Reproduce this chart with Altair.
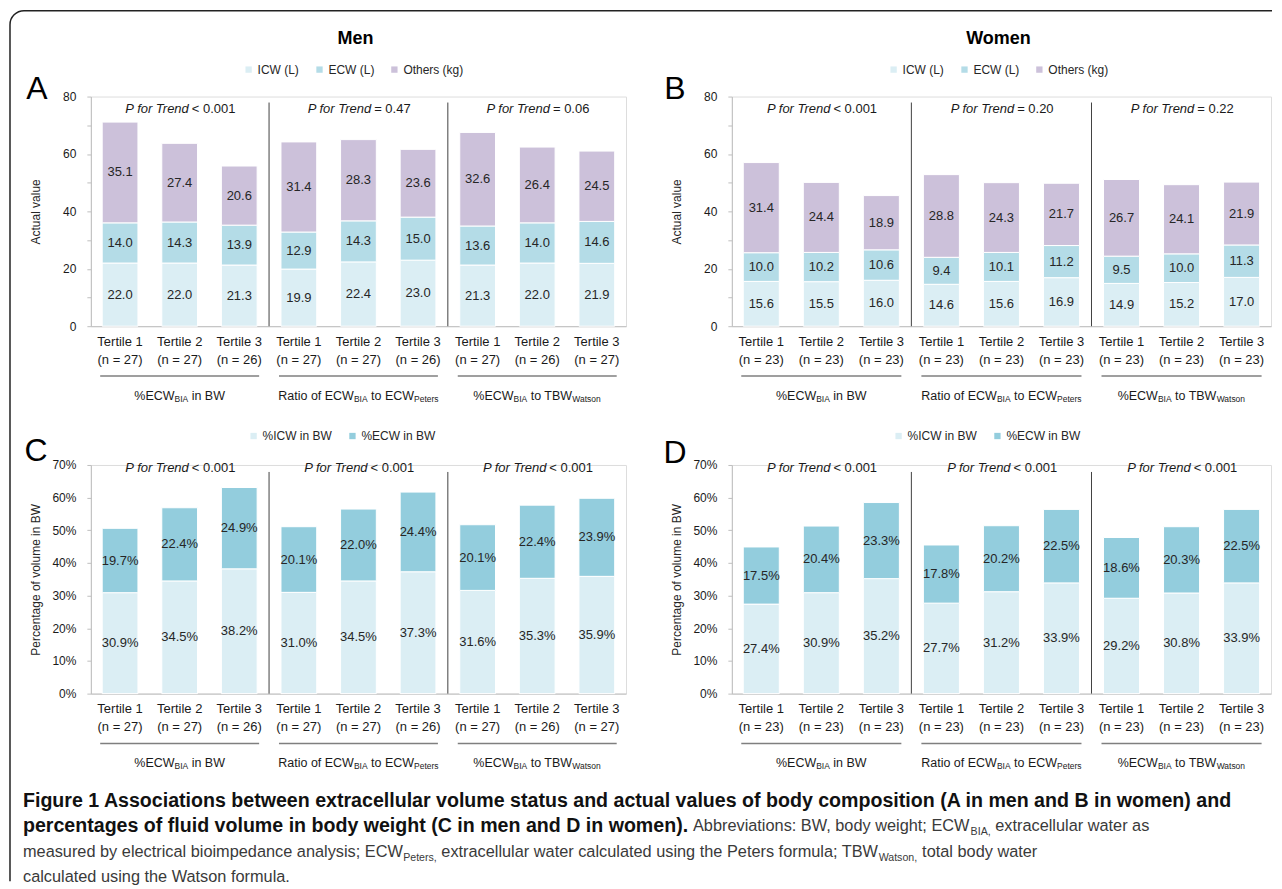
import altair as alt
import pandas as pd

FONT = "Liberation Sans"
INK = "#1a1a1a"

# ---------------- data ----------------
cats = ["c0", "c1", "c2", "c3", "c4", "c5", "c6", "c7", "c8"]
tertile_names = ["Tertile 1", "Tertile 2", "Tertile 3"] * 3
men_n = [27, 27, 26, 27, 27, 26, 27, 26, 27]
women_n = [23, 23, 23, 23, 23, 23, 23, 23, 23]

A_icw = [22.0, 22.0, 21.3, 19.9, 22.4, 23.0, 21.3, 22.0, 21.9]
A_ecw = [14.0, 14.3, 13.9, 12.9, 14.3, 15.0, 13.6, 14.0, 14.6]
A_oth = [35.1, 27.4, 20.6, 31.4, 28.3, 23.6, 32.6, 26.4, 24.5]

B_icw = [15.6, 15.5, 16.0, 14.6, 15.6, 16.9, 14.9, 15.2, 17.0]
B_ecw = [10.0, 10.2, 10.6, 9.4, 10.1, 11.2, 9.5, 10.0, 11.3]
B_oth = [31.4, 24.4, 18.9, 28.8, 24.3, 21.7, 26.7, 24.1, 21.9]

C_icw = [30.9, 34.5, 38.2, 31.0, 34.5, 37.3, 31.6, 35.3, 35.9]
C_ecw = [19.7, 22.4, 24.9, 20.1, 22.0, 24.4, 20.1, 22.4, 23.9]

D_icw = [27.4, 30.9, 35.2, 27.7, 31.2, 33.9, 29.2, 30.8, 33.9]
D_ecw = [17.5, 20.4, 23.3, 17.8, 20.2, 22.5, 18.6, 20.3, 22.5]

A_p = ["< 0.001", "= 0.47", "= 0.06"]
B_p = ["< 0.001", "= 0.20", "= 0.22"]
C_p = ["< 0.001", "< 0.001", "< 0.001"]
D_p = ["< 0.001", "< 0.001", "< 0.001"]

comp_actual = ["ICW (L)", "ECW (L)", "Others (kg)"]
comp_pct = ["%ICW in BW", "%ECW in BW"]
col_actual = ["#dbeef4", "#b4dce7", "#ccc1da"]
col_pct = ["#dbeef4", "#93cddd"]

group_label_pieces = [
    [("%ECW", "n"), ("BIA", "s"), (" in BW", "n")],
    [("Ratio of ECW", "n"), ("BIA", "s"), (" to ECW", "n"), ("Peters", "s")],
    [("%ECW", "n"), ("BIA", "s"), (" to TBW", "n"), ("Watson", "s")],
]

caption_lines = [
    [("Figure 1 Associations between extracellular volume status and actual values of body composition (A in men and B in women) and", "b")],
    [("percentages of fluid volume in body weight (C in men and D in women).", "b"),
     (" Abbreviations: BW, body weight; ECW", "r"), ("BIA,", "s"), (" extracellular water as", "r")],
    [("measured by electrical bioimpedance analysis; ECW", "r"), ("Peters,", "s"),
     (" extracellular water calculated using the Peters formula; TBW", "r"), ("Watson,", "s"),
     (" total body water", "r")],
    [("calculated using the Watson formula.", "r")],
]

# ---------------- text metrics (Arial-compatible widths) ----------------
_REG = {" ": 278, "!": 278, "%": 889, "(": 333, ")": 333, ",": 278, "-": 333, ".": 278,
        ":": 278, ";": 278, "<": 584, "=": 584,
        "A": 667, "B": 667, "C": 722, "D": 722, "E": 667, "F": 611, "G": 778, "H": 722,
        "I": 278, "J": 500, "K": 667, "L": 556, "M": 833, "N": 722, "O": 778, "P": 667,
        "Q": 778, "R": 722, "S": 667, "T": 611, "U": 722, "V": 667, "W": 944, "X": 667,
        "Y": 667, "Z": 611,
        "a": 556, "b": 556, "c": 500, "d": 556, "e": 556, "f": 278, "g": 556, "h": 556,
        "i": 222, "j": 222, "k": 500, "l": 222, "m": 833, "n": 556, "o": 556, "p": 556,
        "q": 556, "r": 333, "s": 500, "t": 278, "u": 556, "v": 500, "w": 722, "x": 500,
        "y": 500, "z": 500}
_BOLD = {" ": 278, "%": 889, "(": 333, ")": 333, ",": 278, "-": 333, ".": 278, ":": 333, ";": 333,
         "A": 722, "B": 722, "C": 722, "D": 722, "E": 667, "F": 611, "G": 778, "H": 722,
         "I": 278, "J": 556, "K": 722, "L": 611, "M": 833, "N": 722, "O": 778, "P": 667,
         "Q": 778, "R": 722, "S": 667, "T": 611, "U": 722, "V": 667, "W": 944, "X": 667,
         "Y": 667, "Z": 611,
         "a": 556, "b": 611, "c": 556, "d": 611, "e": 556, "f": 333, "g": 611, "h": 611,
         "i": 278, "j": 278, "k": 556, "l": 278, "m": 889, "n": 611, "o": 611, "p": 611,
         "q": 611, "r": 389, "s": 556, "t": 333, "u": 611, "v": 556, "w": 778, "x": 556,
         "y": 556, "z": 500}


def tw(s, size, bold=False):
    t = _BOLD if bold else _REG
    return sum(t.get(ch, 556) for ch in s) / 1000.0 * size


def split_lead(t, size, bold=False):
    """SVG collapses leading spaces: return (visible text, width of the leading spaces)."""
    stripped = t.lstrip(" ")
    lead = len(t) - len(stripped)
    return stripped, tw(" " * lead, size, bold)


PI, PO = 0.4, 0.19
ONE = pd.DataFrame({"a": [1]})


def xlabel_expr(n_list):
    expr = "''"
    for i in reversed(range(9)):
        expr = (f"datum.value == '{cats[i]}' ? ['{tertile_names[i]}', '(n = {n_list[i]})'] : "
                + expr)
    return expr


def panel(comp_names, colors, series, n_list, p_list, ymax, tick_step, label_step,
          ytitle, pct, w, h, letter, letter_xy, title_text, p_y, div_y, legend_xy):
    xscale = alt.Scale(domain=cats, paddingInner=PI, paddingOuter=PO)
    yscale = alt.Scale(domain=[0, ymax], nice=False, zero=True)
    step = w / (9 - PI + 2 * PO)
    bw = step * (1 - PI)

    tick_vals = list(range(0, ymax + 1, tick_step))
    if pct:
        lexpr = f"datum.value % {label_step} == 0 ? datum.value + '%' : ''"
    else:
        lexpr = f"datum.value % {label_step} == 0 ? datum.label : ''"
    yaxis = alt.Axis(values=tick_vals, labelExpr=lexpr, title=ytitle, titleX=-55, titleY=h / 2,
                     titleAngle=270, titleAlign="center", titleBaseline="middle",
                     titleFont=FONT, titleFontSize=12, titleFontWeight="normal", titleColor="#262626",
                     labelFont=FONT, labelFontSize=12, labelColor=INK, labelPadding=11,
                     tickSize=4, tickColor="#bfbfbf", domainColor="#bfbfbf", grid=False)
    xaxis = alt.Axis(title=None, labelExpr=xlabel_expr(n_list), labelAngle=0, labelFont=FONT,
                     labelFontSize=13, labelColor=INK, labelLineHeight=18, labelPadding=9,
                     ticks=False, domainColor="#bfbfbf", grid=False, labelBaseline="top")
    X = lambda: alt.X("cat:N", scale=xscale, axis=xaxis)
    Y = lambda f: alt.Y(f, scale=yscale, axis=yaxis)

    rows = []
    for j, (name, vals) in enumerate(zip(comp_names, series)):
        for i, c in enumerate(cats):
            rows.append({"cat": c, "comp": name, "order": j, "value": vals[i]})
    df = pd.DataFrame(rows)
    lab = "format(datum.value, '.1f') + '%'" if pct else "format(datum.value, '.1f')"
    base = (alt.Chart(df)
            .transform_stack(stack="value", groupby=["cat"], as_=["v0", "v1"],
                             sort=[alt.SortField("order", order="ascending")])
            .transform_calculate(mid="(datum.v0 + datum.v1) / 2", lab=lab))

    bars = base.mark_bar(stroke="white", strokeWidth=1).encode(
        x=X(),
        y=Y("v0:Q"),
        y2="v1:Q",
        color=alt.Color("comp:N", scale=alt.Scale(domain=comp_names, range=colors),
                        legend=alt.Legend(orient="none", legendX=legend_xy[0], legendY=legend_xy[1],
                                          direction="horizontal", title=None, symbolType="square",
                                          symbolSize=40, symbolStrokeWidth=0, labelFont=FONT,
                                          labelFontSize=12, labelColor="#262626", columnPadding=14,
                                          labelOffset=3, padding=0)),
    )
    labels = base.mark_text(font=FONT, fontSize=13, color="#262626", baseline="middle").encode(
        x=X(), y=Y("mid:Q"), text="lab:N")

    layers = [bars, labels]

    # group dividers
    div_df = pd.DataFrame({"cat": ["c2", "c5"]})
    layers.append(alt.Chart(div_df).mark_rule(color="#404040", strokeWidth=1, xOffset=step / 2).encode(
        x=X(), y=alt.value(div_y), y2=alt.value(h)))

    # group underline
    ul_df = pd.DataFrame({"cat": ["c0", "c3", "c6"], "cat_end": ["c2", "c5", "c8"]})
    layers.append(alt.Chart(ul_df).mark_rule(color="#7f7f7f", strokeWidth=1.5,
                                             xOffset=-(bw / 2 + 2), x2Offset=bw / 2 + 2).encode(
        x=X(), x2="cat_end:N", y=alt.value(h + 50)))

    # P for trend
    for g in range(3):
        d = pd.DataFrame({"cat": [cats[3 * g + 1]]})
        wi = tw("P for Trend", 13)
        wv = tw(p_list[g], 13)
        gap = 3
        tot = wi + gap + wv
        dxi = -tot / 2 + wi
        layers.append(alt.Chart(d).mark_text(text="P for Trend", fontStyle="italic", font=FONT,
                                             fontSize=13, color=INK, align="right", baseline="middle",
                                             dx=dxi).encode(x=X(), y=alt.value(p_y)))
        layers.append(alt.Chart(d).mark_text(text=p_list[g], font=FONT, fontSize=13, color=INK,
                                             align="left", baseline="middle", dx=dxi + gap).encode(
            x=X(), y=alt.value(p_y)))

    # group labels with subscripts
    NS, SS = 12.5, 8.5
    for g in range(3):
        d = pd.DataFrame({"cat": [cats[3 * g + 1]]})
        pieces = group_label_pieces[g]
        widths = [tw(t, NS if s == "n" else SS) for t, s in pieces]
        x0 = -sum(widths) / 2
        for (t, s), wd in zip(pieces, widths):
            size = NS if s == "n" else SS
            vis, lead = split_lead(t, size)
            layers.append(alt.Chart(d).mark_text(
                text=vis, font=FONT, fontSize=size, color=INK, align="left",
                baseline="alphabetic", dx=x0 + lead).encode(
                x=X(), y=alt.value(h + 69 + (4.5 if s == "n" else 7))))
            x0 += wd

    # panel letter
    layers.append(alt.Chart(ONE).mark_text(text=letter, font=FONT, fontSize=32, color="black",
                                           align="center", baseline="middle").encode(
        x=alt.value(letter_xy[0]), y=alt.value(letter_xy[1])))
    if title_text:
        layers.append(alt.Chart(ONE).mark_text(text=title_text, font=FONT, fontSize=18,
                                               fontWeight="bold", color="black", align="center",
                                               baseline="middle").encode(
            x=alt.value(w / 2 - 3), y=alt.value(-58)))
    return layers


W1, W2, H1, H2 = 536, 540, 230, 229

A_layers = panel(comp_actual, col_actual, [A_icw, A_ecw, A_oth], men_n, A_p, 80, 10, 20,
                 "Actual value", False, W1, H1, "A", (-54, -8), "Men", 12, 6, (152, -33))
B_layers = panel(comp_actual, col_actual, [B_icw, B_ecw, B_oth], women_n, B_p, 80, 10, 20,
                 "Actual value", False, W2, H1, "B", (-57, -8), "Women", 12, 6, (156, -33))
C_layers = panel(comp_pct, col_pct, [C_icw, C_ecw], men_n, C_p, 70, 10, 10,
                 "Percentage of  volume in BW", True, W1, H2, "C", (-55, -14), None, 3, 7, (157, -35))
D_layers = panel(comp_pct, col_pct, [D_icw, D_ecw], women_n, D_p, 70, 10, 10,
                 "Percentage of  volume in BW", True, W2, H2, "D", (-57, -12), None, 3, 7, (161, -35))

# frame (relative to panel A plot origin): rounded top-left corner, only top and left edges drawn
FX0, FX1, FY0, FY1, FR = -81, 1183, -86, 786, 14
FW, FH = FX1 - FX0, FY1 - FY0
frame = [
    alt.Chart(ONE).mark_rect(stroke="#222222", strokeWidth=1.5, fillOpacity=0,
                             cornerRadiusTopLeft=FR,
                             strokeDash=[FW - FR, FH + FW, FH - FR + 1.6 * FR + 6]).encode(
        x=alt.value(FX0), x2=alt.value(FX1), y=alt.value(FY0), y2=alt.value(FY1)),
]

# caption (relative to panel C plot origin)
line1 = caption_lines[0][0][0]
SB = 1212 / tw(line1, 1, bold=True)
line3_unit = sum(tw(t, 1 if s == "r" else 0.65) for t, s in caption_lines[2])
SR = 1016 / line3_unit
cap = []
ys = [335, 361, 387, 412]
for li, pieces in enumerate(caption_lines):
    x = -68.0
    for t, s in pieces:
        bold = s == "b"
        if s == "b":
            size, wt, col, yy = SB, "bold", "#111111", ys[li] + 0.36 * SB
        elif s == "r":
            size, wt, col, yy = SR, "normal", "#3a3a3a", ys[li] + 0.36 * SR
        else:
            size, wt, col, yy = SR * 0.65, "normal", "#3a3a3a", ys[li] + 0.36 * SR + 4
        vis, lead = split_lead(t, size, bold)
        cap.append(alt.Chart(ONE).mark_text(text=vis, font=FONT, fontSize=size, fontWeight=wt,
                                            color=col, align="left", baseline="alphabetic").encode(
            x=alt.value(x + lead), y=alt.value(yy)))
        x += tw(t, size, bold=bold)

A = alt.layer(*frame, *A_layers).properties(width=W1, height=H1)
B = alt.layer(*B_layers).properties(width=W2, height=H1)
C = alt.layer(*C_layers, *cap).properties(width=W1, height=H2)
D = alt.layer(*D_layers).properties(width=W2, height=H2)

chart = (alt.concat(A, B, C, D, columns=2, spacing={"row": 139, "column": 106}, bounds="flush")
         .resolve_scale(x="independent", y="independent", color="independent")
         .resolve_legend(color="independent")
         .properties(padding={"left": 0, "top": 0, "right": 0, "bottom": 0},
                     autosize=alt.AutoSizeParams(type="pad"), background="white")
         .configure_view(strokeWidth=0)
         .configure(font=FONT))

chart.save("out.html", embed_options={"renderer": "svg", "actions": False})
